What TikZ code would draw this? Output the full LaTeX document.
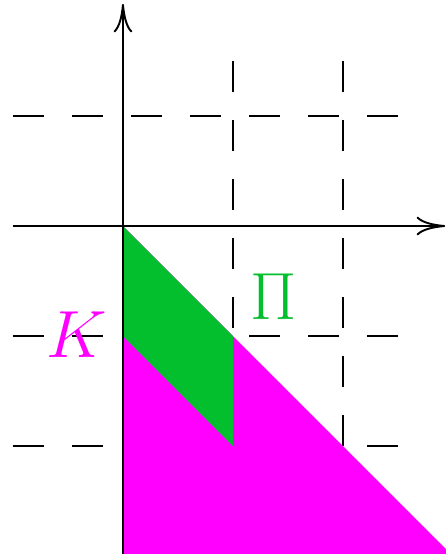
\documentclass[tikz,border=0pt]{standalone}
\usepackage{amsmath,amssymb}
\usepackage{xcolor}
\usepackage{tikz}
\usetikzlibrary{arrows,arrows.meta,positioning}
\definecolor{colorK}{RGB}{255,0,255}
\definecolor{colorP}{RGB}{3,191,46}

\begin{document}
\begin{tikzpicture}[
  x=1cm,
  y=1cm,
  every node/.style={font=\LARGE},
  gridline/.style={line width=0.45pt, dash pattern=on 2.8mm off 2.57mm},
  axisline/.style={-{To[length=2.6mm, width=1.7mm]}, line width=0.5pt},
  regionK/.style={fill=colorK, draw=none},
  regionP/.style={fill=colorP, draw=none},
  labelK/.style={text=colorK},
  labelP/.style={text=colorP}
]
\useasboundingbox (-1.118,-2.982) rectangle (2.936,2.055);
% dashed grid
\foreach \y in {1,-1,-2}
  \draw[gridline] (-1,\y) -- (2.5,\y);
\foreach \x in {1,2}
  \draw[gridline] (\x,1.5) -- (\x,-2);
% the two sets
\fill[regionK] (0,0) -- (2.98,-2.98) -- (0,-2.98) -- cycle;
\fill[regionP] (0,0) -- (1,-1) -- (1,-2) -- (0,-1) -- cycle;
% axes
\coordinate (xl) at (-1,0);
\coordinate (xr) at (2.93,0);
\coordinate (yb) at (0,-2.98);
\coordinate (yt) at (0,2.02);
\draw[axisline] (xl) -- (xr);
\draw[axisline] (yb) -- (yt);
\node[labelK] (K) at (-0.42,-0.99) {\(K\)};
\node[labelP] (P) at (1.37,-0.64) {\(\Pi\)};
\end{tikzpicture}
\end{document}
